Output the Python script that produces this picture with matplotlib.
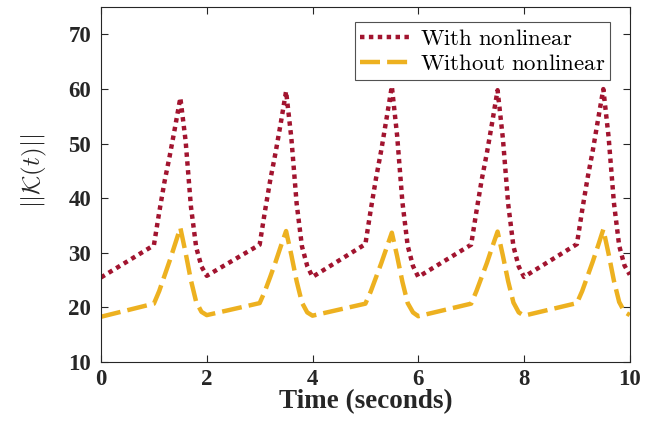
import numpy as np
import matplotlib
matplotlib.use('Agg')
import matplotlib.pyplot as plt

plt.rcParams['mathtext.fontset'] = 'cm'

# time samples (seconds)
t = [0.0, 1.0, 1.1, 1.2, 1.3, 1.4, 1.5, 1.6, 1.7, 1.8, 1.9,
     2.0, 3.0, 3.1, 3.2, 3.3, 3.4, 3.5, 3.6, 3.7, 3.8, 3.9,
     4.0, 5.0, 5.1, 5.2, 5.3, 5.4, 5.5, 5.6, 5.7, 5.8, 5.9,
     6.0, 7.0, 7.1, 7.2, 7.3, 7.4, 7.5, 7.6, 7.7, 7.8, 7.9,
     8.0, 9.0, 9.1, 9.2, 9.3, 9.4, 9.5, 9.6, 9.7, 9.8, 9.9,
     10.0]

# ||K(t)|| with nonlinear term
k_with = [25.5, 31.4, 37.4, 43.0, 47.8, 53.0, 58.4, 50.5, 38.5, 31.0, 27.5,
          25.8, 31.5, 37.6, 43.3, 48.3, 53.8, 59.6, 51.0, 39.0, 31.2, 27.6,
          25.6, 31.6, 37.8, 43.6, 48.8, 54.6, 60.5, 51.5, 39.3, 31.3, 27.6,
          25.6, 31.5, 37.6, 43.4, 48.4, 54.0, 59.8, 51.0, 39.0, 31.2, 27.5,
          25.6, 31.6, 37.8, 43.6, 48.7, 54.4, 60.0, 51.2, 39.2, 31.3, 27.7,
          26.0]

# ||K(t)|| without nonlinear term
k_without = [18.3, 20.7, 23.0, 25.8, 28.6, 31.6, 34.6, 30.0, 25.0, 21.0, 19.2,
             18.6, 20.8, 23.0, 25.6, 28.3, 31.2, 34.0, 29.6, 24.8, 20.9, 19.1,
             18.5, 20.7, 22.9, 25.5, 28.1, 30.9, 33.7, 29.4, 24.7, 20.8, 19.1,
             18.4, 20.7, 23.0, 25.6, 28.2, 31.1, 33.9, 29.5, 24.8, 20.9, 19.1,
             18.5, 20.8, 23.0, 25.7, 28.4, 31.3, 34.3, 29.8, 24.9, 21.0, 19.2,
             18.6]

red = '#A2142F'
yellow = '#EDB120'
dark = '#262626'

fig = plt.figure(figsize=(6.56, 4.22), dpi=100)
ax = fig.add_axes([0.154, 0.142, 0.806, 0.841])

l1, = ax.plot(t, k_with, color=red, linewidth=3.2, dash_capstyle='butt',
              label=r'$\mathrm{With\ nonlinear}$')
l1.set_dashes((1, 1))
l2, = ax.plot(t, k_without, color=yellow, linewidth=3.2, dash_capstyle='butt',
              label=r'$\mathrm{Without\ nonlinear}$')
l2.set_dashes((4.5, 1.6))

ax.set_xlim(0, 10)
ax.set_ylim(10, 75)
ax.set_xticks(np.arange(0, 11, 2))
ax.set_yticks(np.arange(10, 71, 10))

for lab in ax.get_xticklabels() + ax.get_yticklabels():
    lab.set_fontfamily('Liberation Serif')
    lab.set_fontweight('bold')
    lab.set_fontsize(16.5)
    lab.set_color(dark)

ax.tick_params(direction='in', length=5, width=0.8, top=True, right=True,
               colors=dark)
ax.tick_params(axis='y', pad=7)
ax.tick_params(axis='x', pad=5)
for s in ax.spines.values():
    s.set_linewidth(0.8)
    s.set_color(dark)

ax.set_xlabel('Time (seconds)', fontfamily='Liberation Serif', fontweight='bold',
              fontsize=19.5, color=dark, labelpad=-1)
ax.set_ylabel(r'$||\mathcal{K}(t)||$', fontsize=18, color=dark)
ax.yaxis.set_label_coords(-0.098, 0.54)

leg = ax.legend(loc='upper right', bbox_to_anchor=(0.962, 0.958),
                fontsize=16.5, frameon=True, fancybox=False,
                handlelength=2.3, borderpad=0.2, labelspacing=0.1,
                handletextpad=0.3, borderaxespad=0.0)
leg.get_frame().set_edgecolor(dark)
leg.get_frame().set_linewidth(0.8)

plt.savefig('out.png', dpi=100)
